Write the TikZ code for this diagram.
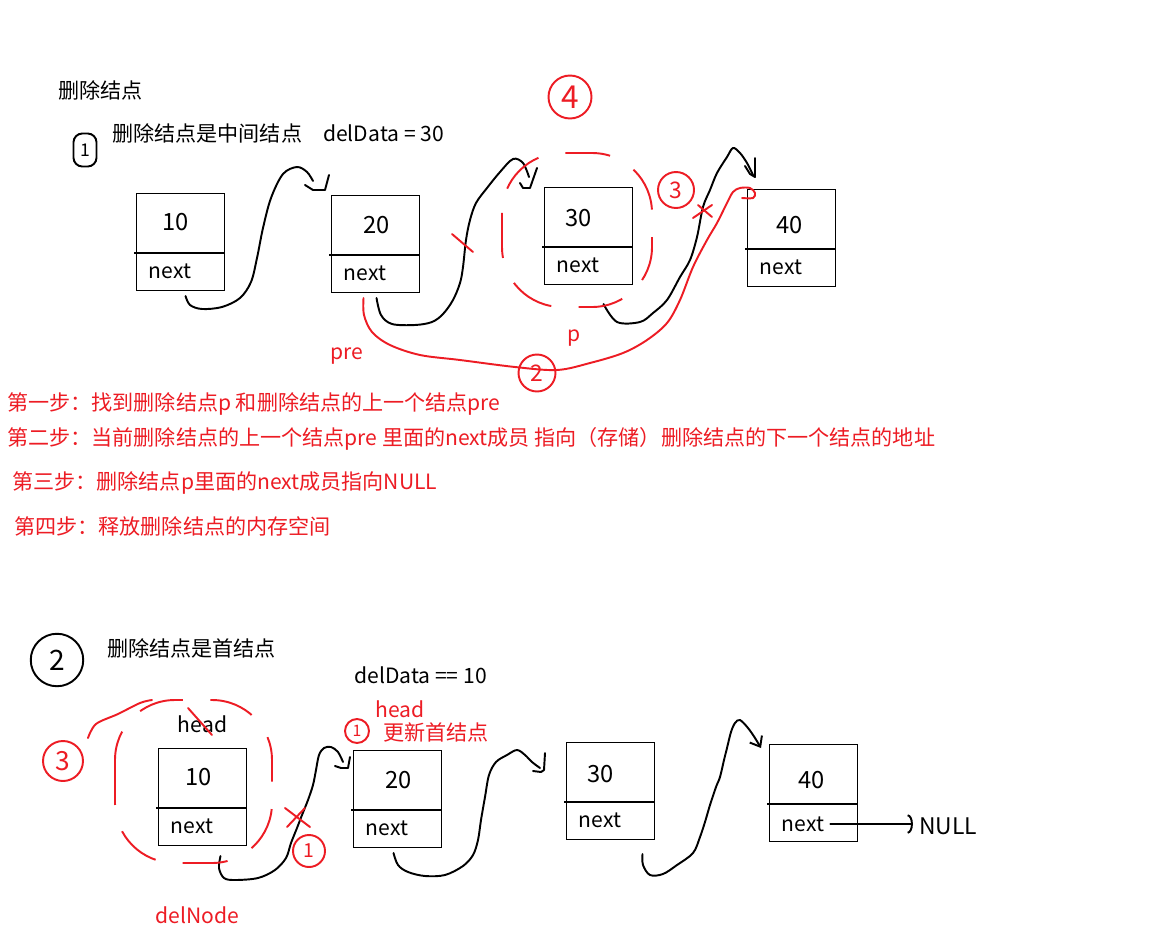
\documentclass[tikz,border=0pt]{standalone}
\usepackage{fontspec}
\setmainfont{Noto Sans CJK SC}
\usepackage{xcolor}
\usetikzlibrary{arrows.meta,positioning,calc}
\definecolor{inkred}{RGB}{237,28,36}

\begin{document}
\begin{tikzpicture}[x=0.02cm,y=-0.02cm,font=\fontsize{12}{14}\selectfont,
  cell/.style={draw,line width=0.6pt,anchor=north west,inner sep=0pt,minimum width=1.76cm,minimum height=1.94cm},
  val/.style={font=\fontsize{13.5}{15}\selectfont},
  txt/.style={anchor=west,inner sep=0pt},
  redtxt/.style={txt,text=inkred},
  hand/.style={line width=1.1pt,line cap=round,line join=round},
  redhand/.style={hand,draw=inkred},
  numcirc/.style={circle,draw,line width=1.1pt,inner sep=0pt},
  redloop/.style={draw=inkred,line width=1.1pt,dash pattern=on 0.9cm off 0.55cm,rounded corners=1.2cm}]
  \fill[white] (0,0) rectangle (1166,933);
  \useasboundingbox (0,0) rectangle (1166,933);

  % case 1: middle node
  \node[txt] (title) at (58,90) {删除结点};
  \node[numcirc,rounded corners=5pt,rectangle,minimum width=0.46cm,minimum height=0.66cm,font=\fontsize{10}{12}\selectfont] (c1no) at (85,150) {1};
  \node[txt] (case1) at (112,133) {删除结点是中间结点\quad delData = 30};

  \node[cell] (r1a) at (136,193) {};
  \node[cell] (r1b) at (331,195) {};
  \node[cell] (r1c) at (544,187) {};
  \node[cell] (r1d) at (747,189) {};
  \draw[line width=0.6pt] ([shift={(-2,60)}]r1a.north west) -- ([shift={(0,60)}]r1a.north east);
  \draw[line width=0.6pt] ([shift={(-2,60)}]r1b.north west) -- ([shift={(0,60)}]r1b.north east);
  \draw[line width=0.6pt] ([shift={(-2,60)}]r1c.north west) -- ([shift={(0,60)}]r1c.north east);
  \draw[line width=0.6pt] ([shift={(-2,60)}]r1d.north west) -- ([shift={(0,60)}]r1d.north east);
  \node[val] (r1a-v) at ([shift={(-5,29)}]r1a.north) {10};
  \node[val] (r1b-v) at ([shift={(1,30)}]r1b.north) {20};
  \node[val] (r1c-v) at ([shift={(-10,31)}]r1c.north) {30};
  \node[val] (r1d-v) at ([shift={(-2,36)}]r1d.north) {40};
  \node (r1a-n) at ([shift={(34,78)}]r1a.north west) {next};
  \node (r1b-n) at ([shift={(34,78)}]r1b.north west) {next};
  \node (r1c-n) at ([shift={(34,78)}]r1c.north west) {next};
  \node (r1d-n) at ([shift={(34,78)}]r1d.north west) {next};

  % hand drawn links, row 1
  \draw[hand] plot[smooth,tension=0.55] coordinates {([shift={(5,5)}]r1a.south) (190,305) (202,309) (222,307) (240,298) (251,282) (257,258) (263,228) (271,198) (283,174) (297,167) (307,172) ([shift={(-18,-14)}]r1b.north west)};
  \draw[hand] (305,185) -- (313,190) -- (325,190) -- (329,175);
  \draw[hand] plot[smooth,tension=0.55] coordinates {([shift={(1,5)}]r1b.south) (381,315) (392,324) (415,325) (432,322) (443,314) (453,300) (460,283) (463,267) (466,240) (470,220) (476,203) (487,188) (500,172) (513,159) (523,163) ([shift={(-15,-10)}]r1c.north west)};
  \draw[hand] (520,183) -- (523,188) -- (530,188) -- (537,168);
  \draw[hand] plot[smooth,tension=0.55] coordinates {([shift={(15,19)}]r1c.south) (617,322) (640,322) (653,313) (667,300) (680,277) (690,260) (697,237) (703,207) (710,190) (717,173) (727,157) (733,148) (740,153) (747,163) ([shift={(6,-14)}]r1d.north west)};
  \draw[hand] (745,166) -- (750,174) -- (755,177) -- (755,158);

  % red: pre -> 40
  \draw[redhand] plot[smooth,tension=0.55] coordinates {([shift={(-12,5)}]r1b.south) (364,315) (372,332) (390,345) (420,355) (460,360) (515,367) (557,370) (590,363) (623,353) (647,340) (667,323) (680,300) (693,267) (707,240) (717,223) (727,203) (733,192) (740,188) (750,188) (755,193) (753,198) ([shift={(-5,9)}]r1d.north west)};
  \draw[redloop] (502,153) rectangle (652,307);
  \draw[redhand] (452,234) -- (473,252);
  \draw[redhand] (693,218) -- (712,205);
  \draw[redhand] (698,205) -- (712,217);
  \node[numcirc,draw=inkred,text=inkred,minimum size=0.86cm,font=\fontsize{18}{18}\selectfont] (st4) at (570,97) {4};
  \node[numcirc,draw=inkred,text=inkred,minimum size=0.72cm,font=\fontsize{13}{13}\selectfont] (st3) at (676,190) {3};
  \node[numcirc,draw=inkred,text=inkred,minimum size=0.74cm,font=\fontsize{13}{13}\selectfont] (st2) at (537,373) {2};
  \node[redtxt] (pre) at (330,356) {pre};
  \node[text=inkred] (p) at (574,338) {p};

  % steps
  \node[redtxt] (step1) at (7,404) {第一步：找到删除结点p 和删除结点的上一个结点pre};
  \node[redtxt] (step2) at (7,439) {第二步：当前删除结点的上一个结点pre 里面的next成员 指向（存储）删除结点的下一个结点的地址};
  \node[redtxt] (step3) at (12,483) {第三步：删除结点p里面的next成员指向NULL};
  \node[redtxt] (step4) at (14,526) {第四步：释放删除结点的内存空间};

  % case 2: first node
  \node[numcirc,minimum size=1.05cm,font=\fontsize{16}{16}\selectfont] (c2no) at (57,660) {2};
  \node[txt] (case2) at (107,648) {删除结点是首结点};
  \node[txt] (del10) at (354,675) {delData == 10};
  \node[redtxt] (newhead) at (375,709) {head};
  \node[redtxt] (update) at (383,732) {更新首结点};
  \node[numcirc,draw=inkred,text=inkred,minimum size=0.48cm,font=\fontsize{9}{9}\selectfont] (st1a) at (357,731) {1};

  \node[cell] (r2a) at (158,748) {};
  \node[cell] (r2b) at (353,750) {};
  \node[cell] (r2c) at (566,742) {};
  \node[cell] (r2d) at (769,744) {};
  \draw[line width=0.6pt] ([shift={(-2,60)}]r2a.north west) -- ([shift={(0,60)}]r2a.north east);
  \draw[line width=0.6pt] ([shift={(-2,60)}]r2b.north west) -- ([shift={(0,60)}]r2b.north east);
  \draw[line width=0.6pt] ([shift={(-2,60)}]r2c.north west) -- ([shift={(0,60)}]r2c.north east);
  \draw[line width=0.6pt] ([shift={(-2,60)}]r2d.north west) -- ([shift={(0,60)}]r2d.north east);
  \node[val] (r2a-v) at ([shift={(-4,29)}]r2a.north) {10};
  \node[val] (r2b-v) at ([shift={(1,30)}]r2b.north) {20};
  \node[val] (r2c-v) at ([shift={(-10,32)}]r2c.north) {30};
  \node[val] (r2d-v) at ([shift={(-2,36)}]r2d.north) {40};
  \node (r2a-n) at ([shift={(34,78)}]r2a.north west) {next};
  \node (r2b-n) at ([shift={(34,78)}]r2b.north west) {next};
  \node (r2c-n) at ([shift={(34,78)}]r2c.north west) {next};
  \node (r2d-n) at ([shift={(34,80)}]r2d.north west) {next};
  \node (oldhead) at ([yshift=0.48cm]r2a.north) {head};
  \node[font=\fontsize{13}{15}\selectfont] (null) at (948,826) {NULL};

  % hand drawn links, row 2
  \draw[hand] plot[smooth,tension=0.55] coordinates {([shift={(18,10)}]r2a.south) (219,868) (224,878) (235,880) (258,878) (275,870) (286,858) (291,843) (297,828) (302,815) (308,800) (313,785) (316,770) (319,755) (324,748) (331,747) (338,752) ([shift={(-10,12)}]r2b.north west)};
  \draw[hand] (335,766) -- (341,768) -- (348,768) -- (350,757);
  \draw[hand] plot[smooth,tension=0.55] coordinates {([shift={(-4,5)}]r2b.south) (398,865) (408,872) (425,876) (445,875) (463,866) (473,855) (478,840) (481,820) (485,797) (489,775) (496,762) (507,755) (517,750) (525,755) (532,762) ([shift={(-26,26)}]r2c.north west)};
  \draw[hand] (533,771) -- (541,772) -- (544,770) -- (545,753);
  \draw[hand,-{Straight Barb[length=5pt,width=8pt]}] plot[smooth,tension=0.55] coordinates {([shift={(32,14)}]r2c.south) (643,865) (650,875) (663,874) (677,865) (693,853) (700,837) (705,822) (710,805) (716,787) (720,777) (724,760) (727,748) (731,732) (735,723) (740,720) (748,728) (755,738) ([shift={(-8,4)}]r2d.north west)};
  \draw[hand,-{Arc Barb[length=3pt,width=11pt]}] (r2d-n.east) -- (r2d-n.east -| null.west);

  % red marks, row 2
  \draw[redloop] (115,700) rectangle (272,863);
  \draw[redhand] plot[smooth,tension=0.55] coordinates {(88,738) (96,724) (118,714) (140,703) (152,700)};
  \draw[redhand] (188,708) -- (212,735);
  \draw[redhand] (285,808) -- (310,827);
  \draw[redhand] (287,827) -- (305,808);
  \node[numcirc,draw=inkred,text=inkred,minimum size=0.8cm,font=\fontsize{15}{15}\selectfont] (st3b) at (63,761) {3};
  \node[numcirc,draw=inkred,text=inkred,minimum size=0.64cm,font=\fontsize{11}{11}\selectfont] (st1b) at (309,851) {1};
  \node[redtxt] (delnode) at (155,915) {delNode};
\end{tikzpicture}
\end{document}
